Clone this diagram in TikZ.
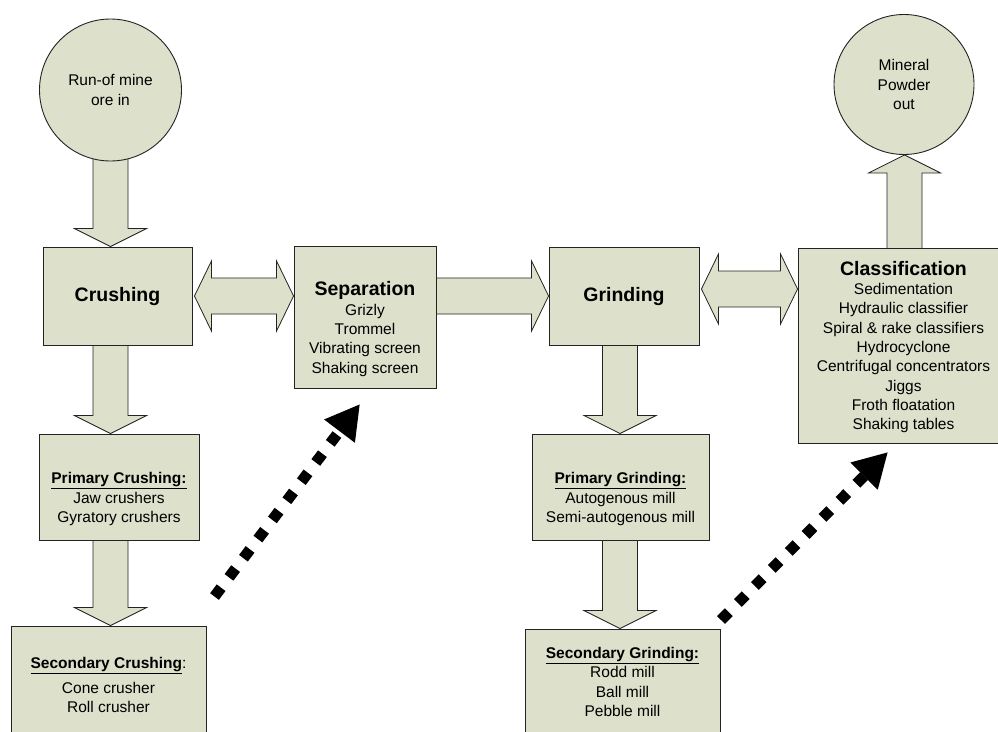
\documentclass[tikz,border=0pt]{standalone}
\usepackage{fontspec}
\setmainfont{Liberation Sans}
\usetikzlibrary{arrows.meta,calc,backgrounds}
\definecolor{boxfill}{RGB}{221,224,203}
\definecolor{edge}{RGB}{35,35,35}

\newcommand{\itemfont}{\fontsize{15.5}{19.3}\selectfont}
\newcommand{\headfont}{\fontsize{19.5}{22}\selectfont\bfseries}
\newcommand{\subhead}[1]{\underline{\textbf{#1}}}

% block arrows: source node, target node, column/row coordinate
\newcommand{\blkdown}[3]{%
  \draw[blk] ($(#1.south -| #3)+(-17.5,-4)$) -- ($(#2.north -| #3)+(-17.5,-18)$)
    -- ++(-18.5,0) -- (#2.north -| #3) -- ++(36,-18) -- ++(-18.5,0)
    -- ($(#1.south -| #3)+(17.5,-4)$) -- cycle;}
\newcommand{\blkup}[3]{%
  \draw[blk] ($(#1.north -| #3)+(-17.5,4)$) -- ($(#2.south -| #3)+(-17.5,18)$)
    -- ++(-18.5,0) -- (#2.south -| #3) -- ++(36,18) -- ++(-18.5,0)
    -- ($(#1.north -| #3)+(17.5,4)$) -- cycle;}
\newcommand{\blkboth}[3]{%
  \draw[blk] ($(#1.east |- #3)+(2,0)$) -- ++(17,-35) -- ++(0,17)
    -- ($(#2.west |- #3)+(-17,-18)$) -- ++(0,-17) -- (#2.west |- #3)
    -- ++(-17,35) -- ++(0,-17) -- ($(#1.east |- #3)+(19,18)$) -- ++(0,17) -- cycle;}
\newcommand{\blkright}[3]{%
  \draw[blk] ($(#1.east |- #3)+(-4,-18)$) -- ($(#2.west |- #3)+(-17,-18)$)
    -- ++(0,-17) -- (#2.west |- #3) -- ++(-17,35) -- ++(0,-17)
    -- ($(#1.east |- #3)+(-4,18)$) -- cycle;}

\begin{document}
\begin{tikzpicture}[x=1pt,y=-1pt,
    box/.style={draw=edge, fill=boxfill, line width=0.9pt, inner sep=0pt},
    ball/.style={circle, draw=edge, fill=boxfill, line width=0.9pt, inner sep=0pt},
    blk/.style={draw=edge, fill=boxfill, line width=0.8pt, line join=miter},
    txt/.style={align=center, font=\itemfont},
    dots/.style={line width=11pt, dash pattern=on 11pt off 13pt,
      -{Triangle[length=34pt,width=36pt]}}]
  \useasboundingbox (0,0) rectangle (998,731);

  % columns and rows of the block arrows
  \coordinate (colA) at (110.5,0);
  \coordinate (colB) at (620,0);
  \coordinate (colC) at (904.5,0);
  \coordinate (rowA) at (0,296);
  \coordinate (rowB) at (0,289);

  % in and out
  \node[ball, txt, minimum size=142pt] (ore) at (110.5,90) {Run-of mine\\ore in};
  \node[ball, txt, minimum size=140pt] (powder) at (904,84.5) {Mineral\\Powder\\out};

  % main stages
  \node[box, txt, minimum width=149pt, minimum height=98pt] (crush) at (117.5,296) {\headfont Crushing};
  \node[box, minimum width=142pt, minimum height=142pt] (sep) at (365,317) {};
  \node[txt] at (365,329) {{\headfont Separation}\\Grizly\\Trommel\\Vibrating screen\\Shaking screen};
  \node[box, txt, minimum width=150pt, minimum height=98pt] (grind) at (624,296) {\headfont Grinding};
  \node[box, minimum width=211pt, minimum height=195pt] (classif) at (903.5,345.5) {};
  \node[txt] at (903.5,347) {{\headfont Classification}\\Sedimentation\\Hydraulic classifier\\Spiral \& rake classifiers\\Hydrocyclone\\Centrifugal concentrators\\Jiggs\\Froth floatation\\Shaking tables};

  % sub stages
  \node[box, minimum width=160pt, minimum height=106pt] (prim) at (119,487) {};
  \node[txt] at (119,499) {\subhead{Primary Crushing:}\\Jaw crushers\\Gyratory crushers};
  \node[box, minimum width=195pt, minimum height=124pt] (sec) at (108.5,688) {};
  \node[txt] at (108.5,685) {\subhead{Secondary Crushing}:\\[6pt]Cone crusher\\Roll crusher};
  \node[box, minimum width=177pt, minimum height=106pt] (pgrind) at (620.5,487) {};
  \node[txt] at (620.5,499) {\subhead{Primary Grinding:}\\Autogenous mill\\Semi-autogenous mill};
  \node[box, minimum width=195pt, minimum height=120pt] (sgrind) at (622.5,689) {};
  \node[txt] at (622.5,682) {\subhead{Secondary Grinding:}\\Rodd mill\\Ball mill\\Pebble mill};

  % block arrows
  \begin{scope}[on background layer]
    \blkdown{ore}{crush}{colA}
    \blkdown{crush}{prim}{colA}
    \blkdown{prim}{sec}{colA}
    \blkboth{crush}{sep}{rowA}
    \blkright{sep}{grind}{rowA}
    \blkdown{grind}{pgrind}{colB}
    \blkdown{pgrind}{sgrind}{colB}
    \blkboth{grind}{classif}{rowB}
    \blkup{classif}{powder}{colC}
  \end{scope}

  % dotted feedback arrows
  \coordinate (d1s) at (214.5,596.5);
  \coordinate (d1e) at (360,404);
  \coordinate (d2s) at (721,620);
  \coordinate (d2e) at (888,452);
  \draw[dots] (d1s) -- (d1e);
  \draw[dots] (d2s) -- (d2e);
\end{tikzpicture}
\end{document}
